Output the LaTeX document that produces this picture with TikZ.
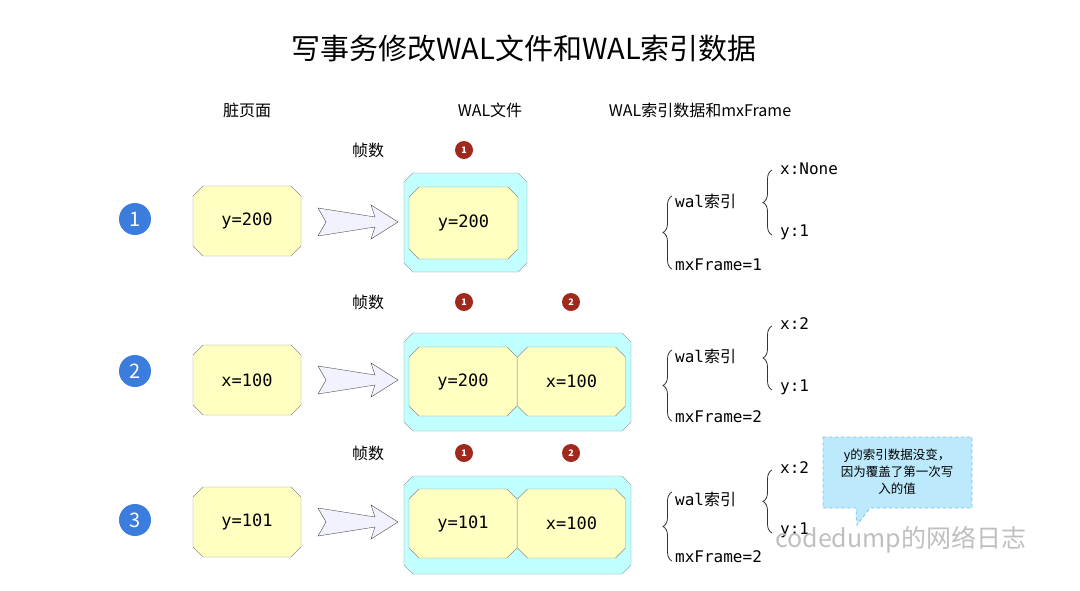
\documentclass[tikz,border=0pt]{standalone}
\usepackage{fontspec}
\setmainfont{Noto Sans CJK SC}
\newfontfamily\codefont{DejaVu Sans Mono}
\usepackage{xcolor}
\usetikzlibrary{shapes.misc,shapes.callouts,decorations.pathreplacing,positioning}

\definecolor{pageyellow}{HTML}{FFFFC2}
\definecolor{walcyan}{HTML}{C2FFFF}
\definecolor{stepblue}{HTML}{3B7DDD}
\definecolor{framered}{HTML}{A0291E}
\definecolor{tipblue}{HTML}{BDE9FC}
\definecolor{tipline}{HTML}{6FC3EC}

\tikzset{
  page/.style={chamfered rectangle, chamfered rectangle xsep=5pt, chamfered rectangle ysep=5pt,
    draw=black!45, fill=pageyellow, minimum width=108pt, minimum height=70pt, inner sep=0pt,
    font=\codefont\fontsize{17}{17}\selectfont},
  walbox/.style={chamfered rectangle, chamfered rectangle xsep=7pt, chamfered rectangle ysep=7pt,
    draw=black!45, fill=walcyan, inner sep=0pt, font=\fontsize{17}{17}\selectfont},
  stepno/.style={circle, fill=stepblue, text=white, minimum size=32pt, inner sep=0pt,
    font=\fontsize{20}{20}\selectfont},
  frameno/.style={circle, fill=framered, text=white, minimum size=18pt, inner sep=0pt,
    font=\bfseries\fontsize{9}{9}\selectfont},
  lbl/.style={inner sep=0pt, font=\fontsize{16}{16}\selectfont},
  code/.style={inner sep=0pt, anchor=west, font=\codefont\fontsize{16}{16}\selectfont},
  bigarrow/.style={draw=black!70, fill=blue!5!white, line join=miter},
  brc/.style={decorate, decoration={brace, amplitude=9pt}, draw=black!80, thick},
}
\newcommand\walidx{wal{\rmfamily 索引}}

\begin{document}
\begin{tikzpicture}[x=1pt,y=-1pt]
\useasboundingbox (0,0) rectangle (1080,590);

% title and headers
\node[lbl, font=\fontsize{29}{29}\selectfont] (title) at (524,48) {写事务修改WAL文件和WAL索引数据};
\node[lbl] (hdirty) at (247,110) {脏页面};
\node[lbl] (hwal) at (490,110) {WAL文件};
\node[lbl] (hidx) at (700,110) {WAL索引数据和mxFrame};

% frame labels
\node[lbl] (fa) at (368,150) {帧数};
\node[lbl] (fb) at (368,302) {帧数};
\node[lbl] (fc) at (368,453) {帧数};
\node[frameno] (fa1) at (464,150) {1};
\node[frameno] (fb1) at (464,302) {1};
\node[frameno] (fb2) at (571,302) {2};
\node[frameno] (fc1) at (464,453) {1};
\node[frameno] (fc2) at (571,453) {2};

% steps
\node[stepno] (s1) at (135,219) {1};
\node[stepno] (s2) at (135,371) {2};
\node[stepno] (s3) at (135,520) {3};

% dirty pages
\node[page] (pa) at (247,221) {y=200};
\node[page] (pb) at (247,380) {x=100};
\node[page] (pc) at (247,522) {y=101};

% WAL files
\node[walbox, minimum width=123pt, minimum height=99pt] (wa) at (465.5,222.5) {\phantom{x}};
\node[walbox, minimum width=227pt, minimum height=98pt] (wb) at (517.5,382) {\phantom{x}};
\node[walbox, minimum width=227pt, minimum height=98pt] (wc) at (517.5,525) {\phantom{x}};
\node[page, minimum width=109pt, minimum height=72pt] (wa1) at (463.5,223) {y=200};
\node[page, minimum height=69pt] (wb1) at (463,381.5) {y=200};
\node[page, minimum height=69pt] (wb2) at (571.5,381.5) {x=100};
\node[page, minimum height=69pt] (wc1) at (463,523.5) {y=101};
\node[page, minimum height=69pt] (wc2) at (571.5,523.5) {x=100};

% arrows
\foreach \r/\y in {a/222,b/380,c/522}{
  \draw[bigarrow] (318,\y-14) -- (375,\y-5) -- (371,\y-17) -- (398,\y) -- (371,\y+17)
    -- (375,\y+5) -- (318,\y+14) -- (326,\y) -- cycle;
}

% WAL index rows
\node[code] (ia) at (675,201) {\walidx};
\node[code] (ma) at (675,265) {mxFrame=1};
\node[code] (xa) at (780,169) {x:None};
\node[code] (ya) at (780,232) {y:1};
\draw[brc] (672,269) -- (672,196);
\draw[brc] (772,235) -- (772,170);

\node[code] (ib) at (675,356) {\walidx};
\node[code] (mb) at (675,417) {mxFrame=2};
\node[code] (xb) at (780,324) {x:2};
\node[code] (yb) at (780,387) {y:1};
\draw[brc] (672,421) -- (672,350);
\draw[brc] (772,390) -- (772,326);

\node[code] (ic) at (675,499) {\walidx};
\node[code] (mc) at (675,557) {mxFrame=2};
\node[code] (xc) at (780,468) {x:2};
\node[code] (yc) at (780,530) {y:1};
\draw[brc] (672,561) -- (672,492);
\draw[brc] (772,533) -- (772,470);

% note
\draw[dashed, draw=tipline, fill=tipblue, thick]
  (823,437) -- (972,437) -- (972,508) -- (870,508) -- (857,525) -- (856,508) -- (823,508) -- cycle;
\node[align=center, inner sep=0pt, font=\fontsize{12.5}{17}\selectfont] (note) at (897,472)
  {y的索引数据没变，\\因为覆盖了第一次写\\入的值};

% watermark
\node[anchor=west, inner sep=0pt, text=black!25, font=\fontsize{25}{25}\selectfont] (wm) at (775,540) {codedump的网络日志};
\end{tikzpicture}
\end{document}
